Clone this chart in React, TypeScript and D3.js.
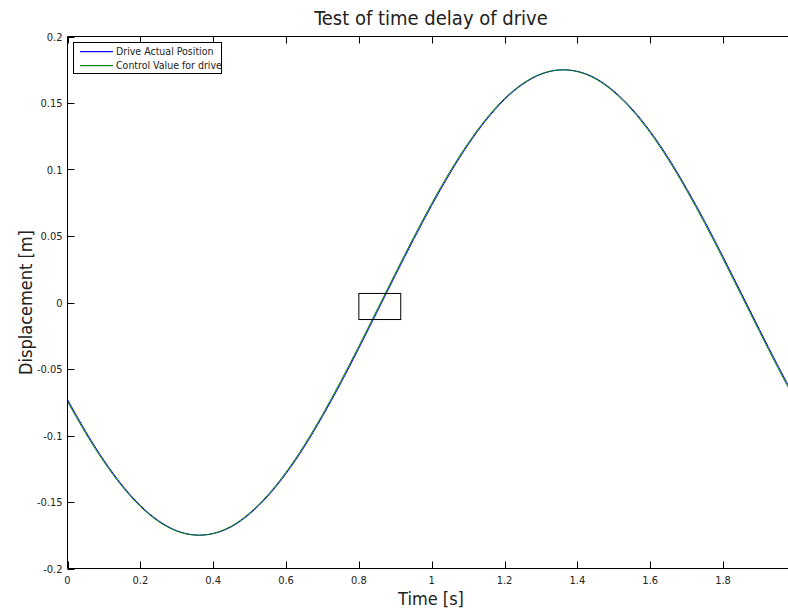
import React from "react";
import * as d3 from "d3";

const times = [0, 0.05, 0.1, 0.15, 0.2, 0.25, 0.3, 0.35, 0.4, 0.45, 0.5, 0.55, 0.6, 0.65, 0.7, 0.75, 0.8, 0.85, 0.9, 0.95, 1.0, 1.05, 1.1, 1.15, 1.2, 1.25, 1.3, 1.35, 1.4, 1.45, 1.5, 1.55, 1.6, 1.65, 1.7, 1.75, 1.8, 1.85, 1.9, 1.95, 2.0];

const actualPosition = [-0.0730, -0.0970, -0.1186, -0.1373, -0.1526, -0.1641, -0.1716, -0.1748, -0.1738, -0.1686, -0.1590, -0.1456, -0.1287, -0.1086, -0.0857, -0.0609, -0.0344, -0.0071, 0.0203, 0.0472, 0.0730, 0.0970, 0.1186, 0.1373, 0.1526, 0.1641, 0.1716, 0.1748, 0.1738, 0.1686, 0.1590, 0.1456, 0.1287, 0.1086, 0.0857, 0.0609, 0.0344, 0.0071, -0.0203, -0.0472, -0.0730];

const controlValue = [-0.0745, -0.0984, -0.1198, -0.1383, -0.1534, -0.1647, -0.1719, -0.1749, -0.1736, -0.1681, -0.1583, -0.1447, -0.1276, -0.1073, -0.0843, -0.0593, -0.0328, -0.0055, 0.0219, 0.0488, 0.0745, 0.0984, 0.1198, 0.1383, 0.1534, 0.1647, 0.1719, 0.1749, 0.1736, 0.1681, 0.1583, 0.1447, 0.1276, 0.1073, 0.0843, 0.0593, 0.0328, 0.0055, -0.0219, -0.0488, -0.0745];

const xTicks = [0, 0.2, 0.4, 0.6, 0.8, 1, 1.2, 1.4, 1.6, 1.8];
const yTicks = [-0.2, -0.15, -0.1, -0.05, 0, 0.05, 0.1, 0.15, 0.2];
const zoomBox = { x0: 0.8, x1: 0.915, y0: -0.0128, y1: 0.0068 };

const seriesNames = ["Drive Actual Position", "Control Value for drive"];
const seriesColors = ["#0000ff", "#007f00"];

const W = 788;
const H = 611;
const FONT = "'DejaVu Sans Condensed', 'DejaVu Sans', sans-serif";

export default function App() {
  const left = 67.5;
  const top = 36.5;
  const bottom = 568.5;
  const x = d3.scaleLinear().domain([0, 2]).range([left, left + 2 * 364.2]);
  const y = d3.scaleLinear().domain([-0.2, 0.2]).range([bottom, top]);

  const line = d3
    .line<number>()
    .x((_, i) => x(times[i]))
    .y((d) => y(d))
    .curve(d3.curveNatural);

  const series = [actualPosition, controlValue];
  const fmt = (v: number) => d3.format("~g")(v).replace("−", "-");

  return (
    <svg
      width={W}
      height={H}
      style={{ position: "absolute", left: 0, top: 0, background: "#fff" }}
      fontFamily={FONT}
    >
      <defs>
        <clipPath id="plotclip">
          <rect x={left} y={top} width={W - left} height={bottom - top} />
        </clipPath>
      </defs>
      <rect width={W} height={H} fill="#fff" />

      <g clipPath="url(#plotclip)">
        {series.map((s, k) => (
          <path key={k} d={line(s) || ""} fill="none" stroke={seriesColors[k]} strokeWidth={1} />
        ))}
      </g>

      <rect
        x={x(zoomBox.x0)}
        y={y(zoomBox.y1)}
        width={x(zoomBox.x1) - x(zoomBox.x0)}
        height={y(zoomBox.y0) - y(zoomBox.y1)}
        fill="none"
        stroke="#000"
        strokeWidth={1}
      />

      <line x1={left} x2={W} y1={top} y2={top} stroke="#000" />
      <line x1={left} x2={W} y1={bottom} y2={bottom} stroke="#000" />
      <line x1={left} x2={left} y1={top} y2={bottom} stroke="#000" />

      {xTicks.map((t) => (
        <g key={"x" + t}>
          <line x1={Math.round(x(t)) + 0.5} x2={Math.round(x(t)) + 0.5} y1={bottom} y2={bottom - 7} stroke="#000" />
          <line x1={Math.round(x(t)) + 0.5} x2={Math.round(x(t)) + 0.5} y1={top} y2={top + 7} stroke="#000" />
          <text x={x(t)} y={bottom + 15} fontSize={11} textAnchor="middle" fill="#222">
            {fmt(t)}
          </text>
        </g>
      ))}

      {yTicks.map((t) => (
        <g key={"y" + t}>
          <line x1={left} x2={left + 7} y1={Math.round(y(t)) + 0.5} y2={Math.round(y(t)) + 0.5} stroke="#000" />
          <text x={left - 5} y={y(t) + 4} fontSize={11} textAnchor="end" fill="#222">
            {fmt(t)}
          </text>
        </g>
      ))}

      <text x={431} y={25} fontSize={20} textAnchor="middle" fill="#222">
        Test of time delay of drive
      </text>
      <text x={431} y={605} fontSize={18} textAnchor="middle" fill="#222">
        Time [s]
      </text>
      <text
        transform={`translate(32, ${y(0)}) rotate(-90)`}
        fontSize={18}
        textAnchor="middle"
        fill="#222"
      >
        Displacement [m]
      </text>

      <rect x={73.5} y={42.5} width={148} height={31} fill="#fff" stroke="#000" />
      {seriesNames.map((n, k) => (
        <g key={n}>
          <rect x={80} y={51 + k * 14} width={33} height={1.2} fill={seriesColors[k]} />
          <text x={116} y={55 + k * 14} fontSize={10.5} fill="#222">
            {n}
          </text>
        </g>
      ))}
    </svg>
  );
}
